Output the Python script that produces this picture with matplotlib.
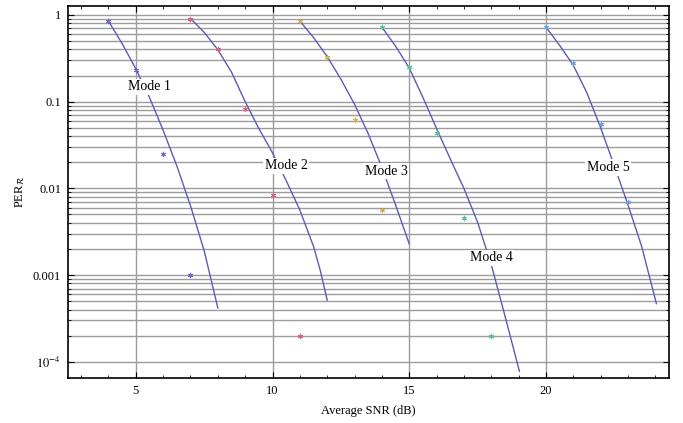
import numpy as np
import matplotlib
matplotlib.use('Agg')
import matplotlib.pyplot as plt

# --- Data (SNR in dB, PER) --- #

# fitted curves
curve1_snr = [4.0, 4.5, 5.0, 5.5, 6.0, 6.5, 7.0, 7.5, 8.0]
curve1_per = [0.851, 0.468, 0.240, 0.112, 0.0468, 0.0182, 0.00631, 0.00191, 0.000417]
curve2_snr = [7.0, 7.5, 8.0, 8.5, 9.0, 9.5, 10.0, 10.5, 11.0, 11.5, 11.75, 12.0]
curve2_per = [0.912, 0.631, 0.398, 0.219, 0.100, 0.0490, 0.0257, 0.0123, 0.00562,
              0.00214, 0.00112, 0.000513]
curve3_snr = [11.0, 11.5, 12.0, 12.5, 13.0, 13.5, 14.0, 14.5, 15.0]
curve3_per = [0.851, 0.550, 0.331, 0.182, 0.0933, 0.0427, 0.0174, 0.00646, 0.00229]
curve4_snr = [14.0, 14.5, 15.0, 15.5, 16.0, 16.5, 17.0, 17.5, 18.0, 18.5, 19.03]
curve4_per = [0.724, 0.437, 0.245, 0.112, 0.0490, 0.0219, 0.0100, 0.00407, 0.00132,
              0.000339, 0.0000776]
curve5_snr = [20.0, 20.5, 21.0, 21.5, 22.0, 22.5, 23.0, 23.5, 24.04]
curve5_per = [0.724, 0.447, 0.263, 0.126, 0.0501, 0.0182, 0.00646, 0.00214, 0.000468]

# simulated points
pts1_snr = [4, 5, 6, 7]
pts1_per = [0.85, 0.23, 0.025, 0.001]
pts2_snr = [7, 8, 9, 10, 11]
pts2_per = [0.91, 0.41, 0.082, 0.0084, 0.0002]
pts3_snr = [11, 12, 13, 14]
pts3_per = [0.85, 0.33, 0.061, 0.0057]
pts4_snr = [14, 15, 16, 17, 18]
pts4_per = [0.72, 0.25, 0.044, 0.0046, 0.0002]
pts5_snr = [20, 21, 22, 23]
pts5_per = [0.72, 0.28, 0.055, 0.0070]

mode_names = ['Mode 1', 'Mode 2', 'Mode 3', 'Mode 4', 'Mode 5']
label_snr = [5.49, 10.5, 14.16, 17.99, 22.27]
label_per = [0.148, 0.0182, 0.0158, 0.00158, 0.0174]

ytick_vals = [1e-4, 1e-3, 1e-2, 1e-1, 1]
ytick_labels = ['$10^{-4}$', '0.001', '0.01', '0.1', '1']
xtick_vals = [5, 10, 15, 20]

# --- Style --- #
plt.rcParams['font.family'] = ['Liberation Serif', 'DejaVu Serif']
plt.rcParams['mathtext.fontset'] = 'stix'

curve_color = '#5c5cb6'
pt_colors = ['#6a6ad0', '#d8608a', '#cfae55', '#55c09a', '#6aa4e4']
grid_color = '#9c9c9c'

fig = plt.figure(figsize=(6.83, 4.23), dpi=100)
ax = fig.add_axes([68/683, 1 - 378/423, 601/683, 372/423])

curves = [(curve1_snr, curve1_per), (curve2_snr, curve2_per), (curve3_snr, curve3_per),
          (curve4_snr, curve4_per), (curve5_snr, curve5_per)]
points = [(pts1_snr, pts1_per), (pts2_snr, pts2_per), (pts3_snr, pts3_per),
          (pts4_snr, pts4_per), (pts5_snr, pts5_per)]

for i in range(5):
    ax.plot(curves[i][0], curves[i][1], color=curve_color, lw=1.0, zorder=3,
            solid_joinstyle='round')
    ax.plot(points[i][0], points[i][1], ls='none', marker=(6, 2, 0), ms=3.8,
            mew=0.7, color=pt_colors[i], zorder=4)
    ax.text(label_snr[i], label_per[i], mode_names[i], fontsize=10,
            ha='center', va='center', zorder=5,
            bbox=dict(fc='white', ec='none', pad=1.2))

ax.set_yscale('log')
ax.set_xlim(2.52, 24.5)
ax.set_ylim(6.5e-5, 1.27)

# ticks and grid
minor_y = [m * 10.0**k for k in range(-4, 0) for m in range(2, 10)]
ax.set_yticks(ytick_vals)
ax.set_yticklabels(ytick_labels)
ax.set_yticks(minor_y, minor=True)
ax.set_xticks(xtick_vals)
ax.set_xticklabels([str(v) for v in xtick_vals])
ax.set_xticks(range(3, 25), minor=True)

ax.tick_params(which='both', direction='in', top=True, right=True,
               labelsize=9, color='black')
ax.tick_params(which='major', length=4, width=0.8, pad=5)
ax.tick_params(which='minor', length=2.5, width=0.6)
ax.tick_params(axis='x', which='minor', labelbottom=False)
ax.tick_params(axis='y', which='minor', labelleft=False)

ax.yaxis.grid(True, which='both', color=grid_color, lw=1.0, zorder=0)
ax.xaxis.grid(True, which='major', color=grid_color, lw=1.0, zorder=0)
ax.set_axisbelow(True)

for sp in ax.spines.values():
    sp.set_linewidth(1.2)
    sp.set_color('black')

ax.set_xlabel('Average SNR (dB)', fontsize=9)
ax.set_ylabel(r'PER$_{\mathcal{R}}$', fontsize=9)
ax.xaxis.set_label_coords(0.5, -0.072)
ax.yaxis.set_label_coords(-0.068, 0.5)

fig.savefig('out.png', dpi=100)
